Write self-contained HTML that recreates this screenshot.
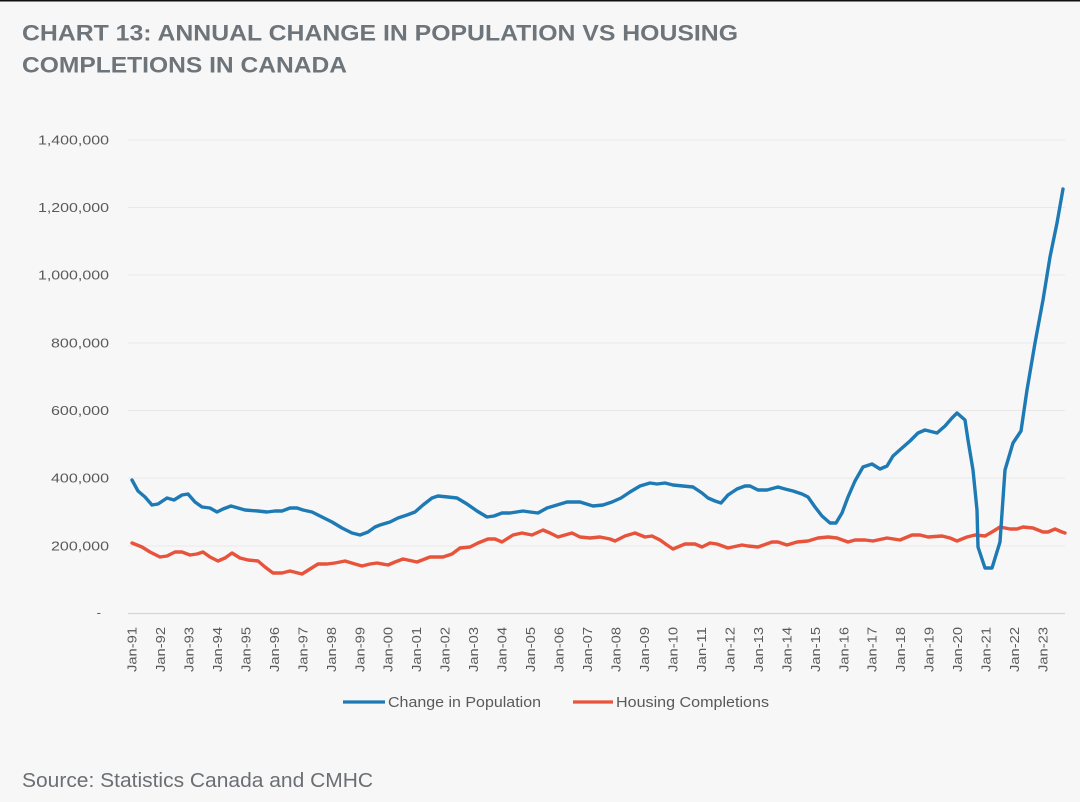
<!DOCTYPE html>
<html><head><meta charset="utf-8"><style>
html,body{margin:0;padding:0;background:#f7f7f7;}
svg{display:block;}
</style></head><body>
<svg width="1080" height="802" viewBox="0 0 1080 802" xmlns="http://www.w3.org/2000/svg" font-family="Liberation Sans, sans-serif">
<rect x="0" y="0" width="1080" height="802" fill="#f7f7f7"/>
<rect x="0" y="0" width="1080" height="1.5" fill="#111"/>
<text x="22" y="40.5" font-size="22.5" font-weight="bold" fill="#6d747a" textLength="716" lengthAdjust="spacingAndGlyphs">CHART 13: ANNUAL CHANGE IN POPULATION VS HOUSING</text>
<text x="22" y="72.5" font-size="22.5" font-weight="bold" fill="#6d747a" textLength="325" lengthAdjust="spacingAndGlyphs">COMPLETIONS IN CANADA</text>
<g stroke="#e8e8e8" stroke-width="1">
<line x1="128" y1="140" x2="1065" y2="140"/>
<line x1="128" y1="207.5" x2="1065" y2="207.5"/>
<line x1="128" y1="275" x2="1065" y2="275"/>
<line x1="128" y1="343" x2="1065" y2="343"/>
<line x1="128" y1="410.5" x2="1065" y2="410.5"/>
<line x1="128" y1="478" x2="1065" y2="478"/>
<line x1="128" y1="546" x2="1065" y2="546"/>
</g>
<line x1="128" y1="613.5" x2="1065" y2="613.5" stroke="#d6d6d6" stroke-width="1.2"/>
<g font-size="13" fill="#5a5a5a" text-anchor="end">
<text x="109" y="144.5" textLength="71" lengthAdjust="spacingAndGlyphs">1,400,000</text>
<text x="109" y="212" textLength="71" lengthAdjust="spacingAndGlyphs">1,200,000</text>
<text x="109" y="279.5" textLength="71" lengthAdjust="spacingAndGlyphs">1,000,000</text>
<text x="109" y="347.5" textLength="58" lengthAdjust="spacingAndGlyphs">800,000</text>
<text x="109" y="415" textLength="58" lengthAdjust="spacingAndGlyphs">600,000</text>
<text x="109" y="482.5" textLength="58" lengthAdjust="spacingAndGlyphs">400,000</text>
<text x="109" y="550.5" textLength="58" lengthAdjust="spacingAndGlyphs">200,000</text>
<text x="101" y="617">-</text>
</g>
<g font-size="13" fill="#5a5a5a" text-anchor="end">
<text transform="translate(136.5,627) rotate(-90)" textLength="45" lengthAdjust="spacingAndGlyphs">Jan-91</text>
<text transform="translate(164.97,627) rotate(-90)" textLength="45" lengthAdjust="spacingAndGlyphs">Jan-92</text>
<text transform="translate(193.44,627) rotate(-90)" textLength="45" lengthAdjust="spacingAndGlyphs">Jan-93</text>
<text transform="translate(221.91,627) rotate(-90)" textLength="45" lengthAdjust="spacingAndGlyphs">Jan-94</text>
<text transform="translate(250.38,627) rotate(-90)" textLength="45" lengthAdjust="spacingAndGlyphs">Jan-95</text>
<text transform="translate(278.85,627) rotate(-90)" textLength="45" lengthAdjust="spacingAndGlyphs">Jan-96</text>
<text transform="translate(307.32,627) rotate(-90)" textLength="45" lengthAdjust="spacingAndGlyphs">Jan-97</text>
<text transform="translate(335.79,627) rotate(-90)" textLength="45" lengthAdjust="spacingAndGlyphs">Jan-98</text>
<text transform="translate(364.26,627) rotate(-90)" textLength="45" lengthAdjust="spacingAndGlyphs">Jan-99</text>
<text transform="translate(392.73,627) rotate(-90)" textLength="45" lengthAdjust="spacingAndGlyphs">Jan-00</text>
<text transform="translate(421.2,627) rotate(-90)" textLength="45" lengthAdjust="spacingAndGlyphs">Jan-01</text>
<text transform="translate(449.67,627) rotate(-90)" textLength="45" lengthAdjust="spacingAndGlyphs">Jan-02</text>
<text transform="translate(478.14,627) rotate(-90)" textLength="45" lengthAdjust="spacingAndGlyphs">Jan-03</text>
<text transform="translate(506.61,627) rotate(-90)" textLength="45" lengthAdjust="spacingAndGlyphs">Jan-04</text>
<text transform="translate(535.08,627) rotate(-90)" textLength="45" lengthAdjust="spacingAndGlyphs">Jan-05</text>
<text transform="translate(563.55,627) rotate(-90)" textLength="45" lengthAdjust="spacingAndGlyphs">Jan-06</text>
<text transform="translate(592.02,627) rotate(-90)" textLength="45" lengthAdjust="spacingAndGlyphs">Jan-07</text>
<text transform="translate(620.49,627) rotate(-90)" textLength="45" lengthAdjust="spacingAndGlyphs">Jan-08</text>
<text transform="translate(648.96,627) rotate(-90)" textLength="45" lengthAdjust="spacingAndGlyphs">Jan-09</text>
<text transform="translate(677.43,627) rotate(-90)" textLength="45" lengthAdjust="spacingAndGlyphs">Jan-10</text>
<text transform="translate(705.9,627) rotate(-90)" textLength="45" lengthAdjust="spacingAndGlyphs">Jan-11</text>
<text transform="translate(734.37,627) rotate(-90)" textLength="45" lengthAdjust="spacingAndGlyphs">Jan-12</text>
<text transform="translate(762.84,627) rotate(-90)" textLength="45" lengthAdjust="spacingAndGlyphs">Jan-13</text>
<text transform="translate(791.31,627) rotate(-90)" textLength="45" lengthAdjust="spacingAndGlyphs">Jan-14</text>
<text transform="translate(819.78,627) rotate(-90)" textLength="45" lengthAdjust="spacingAndGlyphs">Jan-15</text>
<text transform="translate(848.25,627) rotate(-90)" textLength="45" lengthAdjust="spacingAndGlyphs">Jan-16</text>
<text transform="translate(876.72,627) rotate(-90)" textLength="45" lengthAdjust="spacingAndGlyphs">Jan-17</text>
<text transform="translate(905.19,627) rotate(-90)" textLength="45" lengthAdjust="spacingAndGlyphs">Jan-18</text>
<text transform="translate(933.66,627) rotate(-90)" textLength="45" lengthAdjust="spacingAndGlyphs">Jan-19</text>
<text transform="translate(962.13,627) rotate(-90)" textLength="45" lengthAdjust="spacingAndGlyphs">Jan-20</text>
<text transform="translate(990.6,627) rotate(-90)" textLength="45" lengthAdjust="spacingAndGlyphs">Jan-21</text>
<text transform="translate(1019.07,627) rotate(-90)" textLength="45" lengthAdjust="spacingAndGlyphs">Jan-22</text>
<text transform="translate(1047.54,627) rotate(-90)" textLength="45" lengthAdjust="spacingAndGlyphs">Jan-23</text>
</g>
<polyline fill="none" stroke="#e8533b" stroke-width="3.4" stroke-linejoin="round" stroke-linecap="round" points="132,543 142,547 150,552 160,557 167,556 175,552 182,552 190,555 197,554 203,552 210,557 218,561 225,558 232,553 240,558 248,560 258,561 265,567 273,573 282,573 290,571 302,574 310,569 318,564 327,564 335,563 345,561 355,564 362,566 370,564 377,563 388,565 395,562 403,559 417,562 430,557 443,557 452,554 460,548 470,547 478,543 488,539 495,539 502,542 513,535 522,533 532,535 543,530 550,533 558,537 572,533 580,537 590,538 600,537 610,539 615,541 625,536 635,533 645,537 652,536 660,540 667,545 673,549 685,544 695,544 702,547 710,543 717,544 728,548 742,545 748,546 758,547 772,542 778,542 787,545 797,542 808,541 818,538 828,537 837,538 848,542 855,540 865,540 873,541 887,538 900,540 912,535 920,535 928,537 942,536 950,538 957,541 967,537 975,535 985,536 992,532 1000,527 1010,529 1017,529 1023,527 1033,528 1043,532 1048,532 1055,529 1062,532 1065,533"/>
<polyline fill="none" stroke="#1d7ab5" stroke-width="3.4" stroke-linejoin="round" stroke-linecap="round" points="132,480 138,491 145,497 152,505 158,504 167,498 174,500 182,495 188,494 195,502 202,507 210,508 217,512 223,509 231,506 238,508 245,510 258,511 267,512 275,511 282,511 290,508 297,508 303,510 312,512 322,517 332,522 342,528 352,533 360,535 368,532 375,527 380,525 390,522 398,518 407,515 415,512 423,505 432,498 438,496 448,497 457,498 467,504 477,511 487,517 494,516 502,513 510,513 523,511 530,512 538,513 547,508 557,505 567,502 580,502 593,506 603,505 612,502 621,498 630,492 640,486 650,483 657,484 665,483 673,485 683,486 693,487 702,493 708,498 715,501 721,503 728,495 737,489 745,486 750,486 758,490 767,490 778,487 785,489 793,491 802,494 808,497 815,507 822,516 830,523 836,523 842,513 848,497 855,481 863,467 872,464 880,469 887,466 893,456 902,448 910,441 918,433 925,430 937,433 945,426 952,418 957,413 965,420 968,440 973,470 977,510 978,547 985,568 992,568 1000,542 1005,470 1013,443 1021,431 1027,390 1035,343 1043,300 1050,257 1057,223 1063,189"/>
<line x1="343" y1="702" x2="385" y2="702" stroke="#1d7ab5" stroke-width="3.2"/>
<text x="388" y="707" font-size="14.5" fill="#5a5a5a" textLength="153" lengthAdjust="spacingAndGlyphs">Change in Population</text>
<line x1="573" y1="702" x2="613" y2="702" stroke="#e8533b" stroke-width="3.2"/>
<text x="616" y="707" font-size="14.5" fill="#5a5a5a" textLength="153" lengthAdjust="spacingAndGlyphs">Housing Completions</text>
<text x="22" y="787" font-size="20" fill="#6b6f73" textLength="351" lengthAdjust="spacingAndGlyphs">Source: Statistics Canada and CMHC</text>
</svg>
</body></html>
